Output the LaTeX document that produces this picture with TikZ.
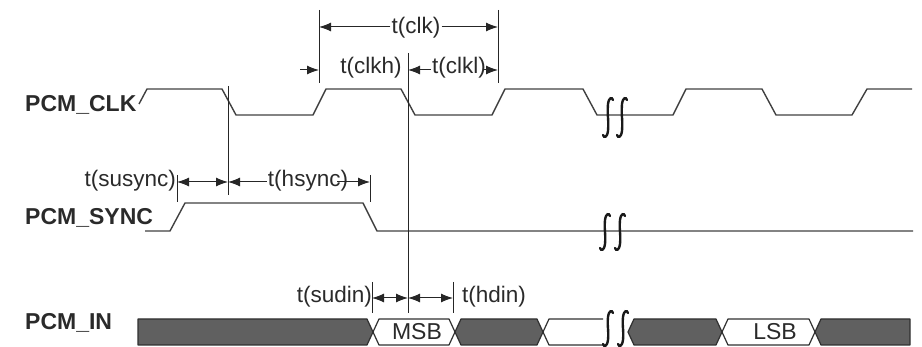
\documentclass[tikz,border=0pt]{standalone}
\usepackage{fontspec}
\setmainfont{Liberation Sans}
\usetikzlibrary{arrows.meta}
\definecolor{wavec}{HTML}{404040}
\definecolor{txt}{HTML}{2A2A2A}
\definecolor{busdark}{HTML}{606060}
\definecolor{busline}{HTML}{303030}
\begin{document}
\begin{tikzpicture}[x=1pt,y=-1pt,
  wave/.style={draw=wavec, line width=1.4pt, line join=round},
  dim/.style={draw=black!85, line width=1pt},
  arr/.style={-{Latex[length=12pt,width=9pt]}, dim},
  darr/.style={{Latex[length=12pt,width=9pt]}-{Latex[length=12pt,width=9pt]}, dim},
  lbl/.style={font=\bfseries\fontsize{23}{23}\selectfont, text=txt, inner sep=0pt, anchor=west},
  tl/.style={font=\fontsize{22.5}{22.5}\selectfont, text=txt, inner sep=1pt},
  bt/.style={font=\fontsize{23}{23}\selectfont, text=txt, inner sep=0pt},
  brk/.style={line width=2.4pt, draw=black!90, line cap=round},
  darkbus/.style={fill=busdark, draw=busline, line width=1.2pt, line join=round},
  whitebus/.style={fill=white, draw=busline, line width=1.2pt, line join=round}]
\useasboundingbox (0,0) rectangle (922,347);

% signal labels
\node[lbl] (lclk) at (25,105) {PCM\_CLK};
\node[lbl] (lsync) at (25,218) {PCM\_SYNC};
\node[lbl] (lin) at (25,323) {PCM\_IN};

% PCM_CLK
\draw[wave] (139,104) -- (147,89) -- (222,89) -- (236,115) -- (313,115) -- (326,89)
  -- (401,89) -- (415,115) -- (492,115) -- (505,89) -- (583,89) -- (597,115)
  -- (673,115) -- (686,89) -- (762,89) -- (776,115) -- (852,115) -- (867,89) -- (912,89);

% PCM_SYNC
\draw[wave] (145,231) -- (170,231) -- (185,203) -- (363,203) -- (377,231) -- (913,231);

% PCM_IN bus
\draw[darkbus] (138,319) -- (367,319) -- (373,332) -- (367,345) -- (138,345) -- cycle;
\draw[whitebus] (373,332) -- (379,319) -- (449,319) -- (455,332) -- (449,345) -- (379,345) -- cycle;
\draw[darkbus] (455,332) -- (461,319) -- (537,319) -- (543,332) -- (537,345) -- (461,345) -- cycle;
\draw[whitebus] (603,319) -- (549,319) -- (543,332) -- (549,345) -- (603,345);
\draw[darkbus] (628,332) -- (634,319) -- (716,319) -- (722,332) -- (716,345) -- (634,345) -- cycle;
\draw[whitebus] (722,332) -- (728,319) -- (809,319) -- (815,332) -- (809,345) -- (728,345) -- cycle;
\draw[darkbus] (815,332) -- (821,319) -- (910,319) -- (910,345) -- (821,345) -- cycle;
\node[bt] (msb) at (417,332) {MSB};
\node[bt] (lsb) at (775,332) {LSB};

% break marks
\foreach \bx/\ya/\yb in {608/97/138, 622/97/138, 605/213/251, 620/213/251, 608/310/347, 623/310/347}{
  \draw[brk] (\bx+5,\ya+3) .. controls (\bx+4,\ya) and (\bx+1,\ya) .. (\bx,\ya+7)
     .. controls (\bx-1,{(\ya+\yb)/2}) and (\bx+1,{(\ya+\yb)/2}) .. (\bx,\yb-7)
     .. controls (\bx-1,\yb) and (\bx-4,\yb) .. (\bx-5,\yb-3);
}

% reference vertical lines
\draw[dim] (228,86) -- (228,195);
\draw[dim] (408,53) -- (408,313);
\draw[dim] (319,10) -- (319,83);
\draw[dim] (498,10) -- (498,83);
\draw[dim] (177,175) -- (177,202);
\draw[dim] (370,175) -- (370,202);
\draw[dim] (372,282) -- (372,313);
\draw[dim] (453,282) -- (453,313);

% t(clk)
\node[tl, fill=white] (tclk) at (416,28) {t(clk)};
\coordinate (clkL) at (319,27);
\coordinate (clkR) at (498,27);
\draw[arr] (tclk.west |- clkL) -- (clkL);
\draw[arr] (tclk.east |- clkR) -- (clkR);

% t(clkh), t(clkl)
\node[tl] (tclkh) at (371,68) {t(clkh)};
\node[tl] (tclkl) at (459,68) {t(clkl)};
\coordinate (chS) at (300,70);
\coordinate (chE) at (319,70);
\coordinate (clE) at (408,70);
\coordinate (clR) at (498,70);
\draw[arr] (chS) -- (chE);
\draw[arr] (tclkl.west |- clE) -- (clE);
\draw[arr] ([xshift=-4pt]tclkl.east |- clR) -- (clR);

% t(susync), t(hsync)
\node[tl, anchor=east] (tsus) at (177,181) {t(susync)};
\node[tl] (thsync) at (308,181) {t(hsync)};
\coordinate (s1) at (177,182);
\coordinate (s2) at (228,182);
\coordinate (s3) at (370,182);
\draw[darr] (s1) -- (s2);
\draw[arr] (thsync.west |- s2) -- (s2);
\draw[arr] ([xshift=-12pt]thsync.east |- s3) -- (s3);

% t(sudin), t(hdin)
\node[tl, anchor=east] (tsudin) at (373,297) {t(sudin)};
\node[tl, anchor=west] (thdin) at (461,297) {t(hdin)};
\coordinate (d1) at (372,298);
\coordinate (d2) at (408,298);
\coordinate (d3) at (453,298);
\draw[darr] (d1) -- (d2);
\draw[darr] (d2) -- (d3);
\end{tikzpicture}
\end{document}
